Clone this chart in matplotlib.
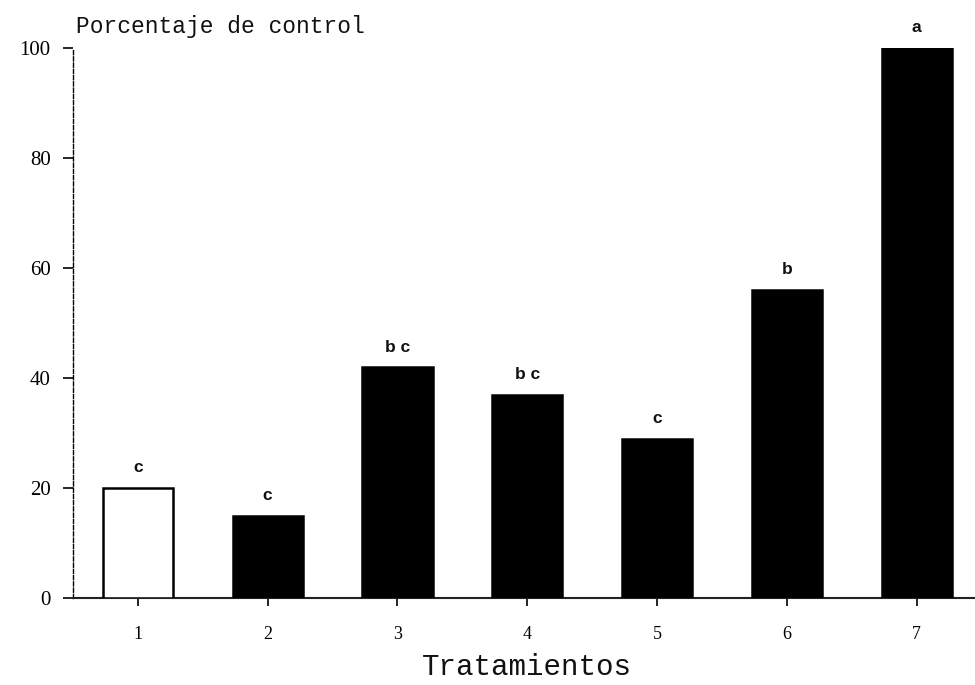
import matplotlib
matplotlib.use("Agg")
import matplotlib.pyplot as plt

treatments = ["1", "2", "3", "4", "5", "6", "7"]
values = [20, 15, 42, 37, 29, 56, 100]
letters = ["c", "c", "b c", "b c", "c", "b", "a"]
fills = ["white", "black", "black", "black", "black", "black", "black"]
yticks = [0, 20, 40, 60, 80, 100]

fig = plt.figure(figsize=(9.75, 6.85), dpi=100)
ax = fig.add_axes([73/975, 1-598/685, (975-73)/975, (598-48)/685])

x = list(range(1, len(treatments) + 1))
ax.bar(x, values, width=0.54, color=fills, edgecolor="black", linewidth=1.8, zorder=3)

for xi, v, lab in zip(x, values, letters):
    ax.annotate(lab, (xi, v), xytext=(0, 9), textcoords="offset points",
                ha="center", va="bottom", fontsize=12.5, fontweight="bold",
                family="Liberation Sans", color="#111111")

ax.set_xlim(0.5, 7.45)
ax.set_ylim(0, 100)
ax.set_xticks(x)
ax.set_xticklabels(treatments, family="Liberation Serif", fontsize=13)
ax.set_yticks(yticks)
ax.set_yticklabels([str(t) for t in yticks], family="Liberation Serif", fontsize=15)
ax.tick_params(axis="y", length=7, width=1.2, pad=9, direction="out")
ax.tick_params(axis="x", length=6, width=1.2, pad=14, direction="out")

for s in ["top", "right"]:
    ax.spines[s].set_visible(False)
ax.spines["left"].set_linestyle((0, (3, 1.5)))
ax.spines["left"].set_linewidth(1.0)
ax.spines["bottom"].set_linewidth(1.5)
ax.spines["bottom"].set_color("#222222")

fig.text(76/975, 1-33/685, "Porcentaje de control", family="Liberation Mono",
         fontsize=16.5, ha="left", va="baseline", color="#111111")
fig.text(527/975, 1-675/685, "Tratamientos", family="Liberation Mono",
         fontsize=21, ha="center", va="baseline", color="#111111")

fig.savefig("out.png", dpi=100)
